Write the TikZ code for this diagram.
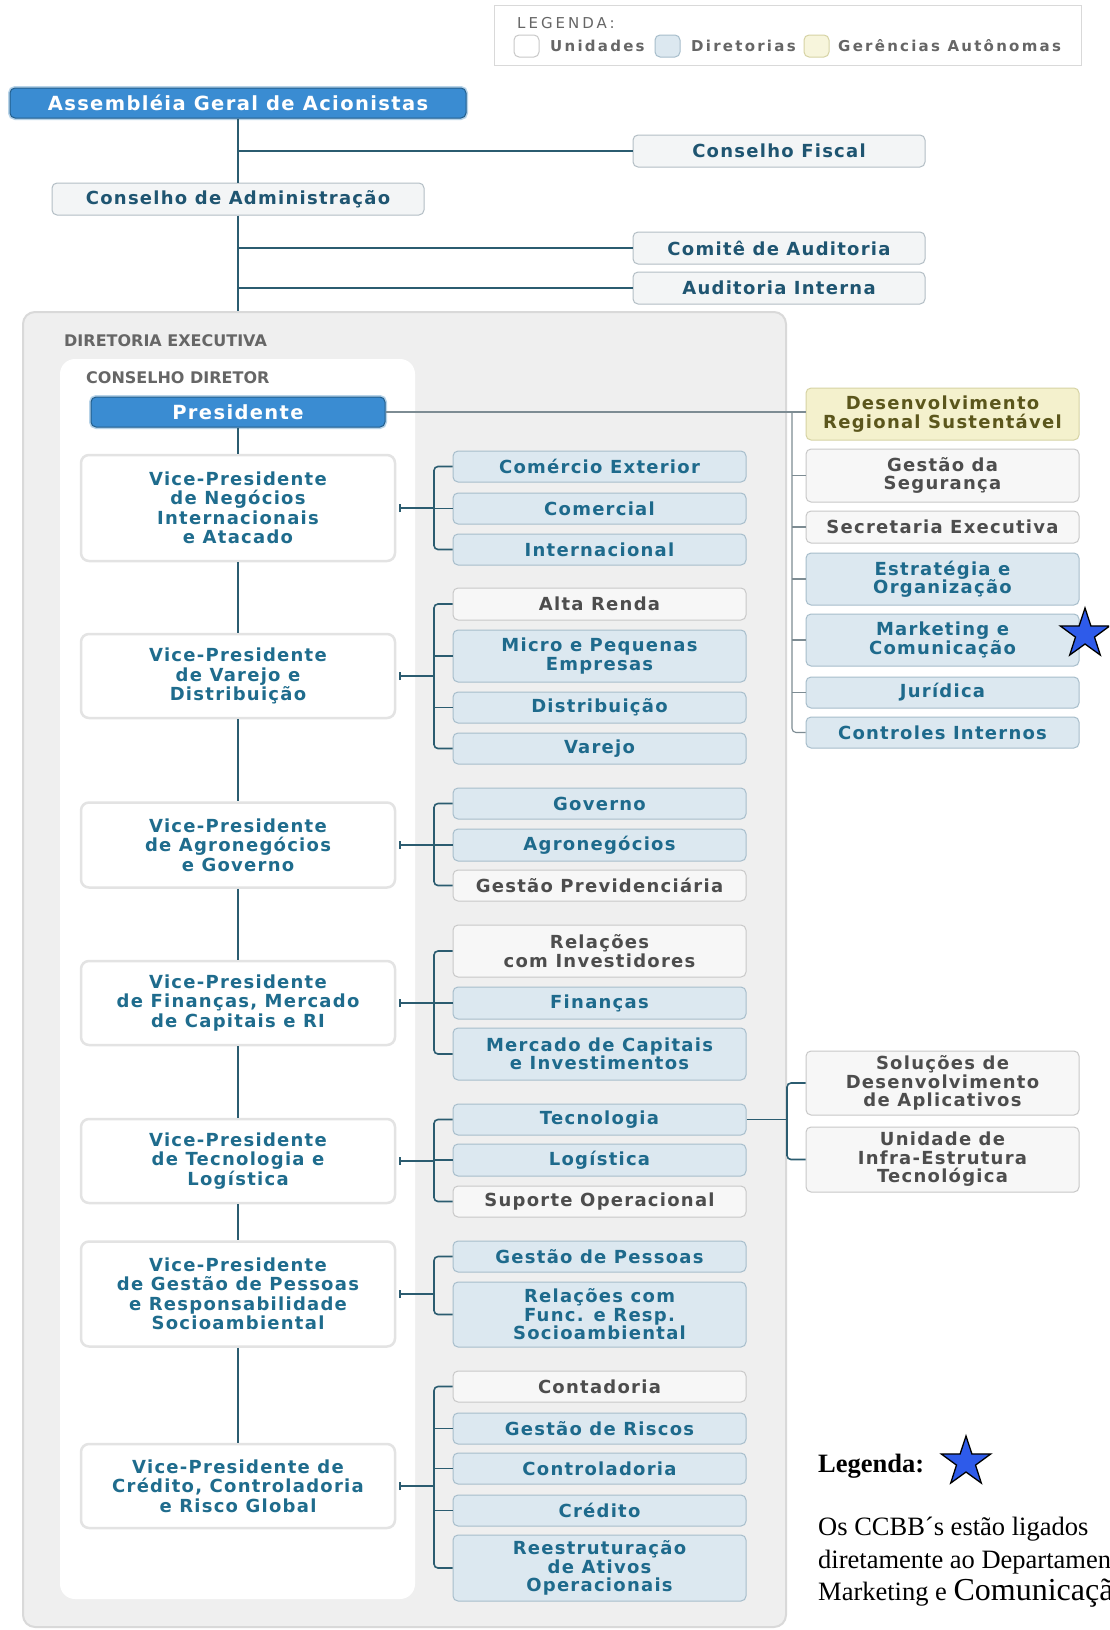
\documentclass[tikz,border=0pt]{standalone}
\usepackage{fontspec}
\setmainfont{DejaVu Sans}
\newfontfamily\orgfont[LetterSpace=7]{DejaVu Sans}
\newfontfamily\legfont[LetterSpace=15]{DejaVu Sans}
\newfontfamily\capfont[LetterSpace=20]{DejaVu Sans}
\newfontfamily\notefont{Liberation Serif}
\usetikzlibrary{arrows.meta,shapes.geometric}

\definecolor{linkcol}{HTML}{2B5C70}
\definecolor{thincol}{HTML}{7D8C93}
\definecolor{dirfill}{HTML}{DCE8F0}
\definecolor{dirdraw}{HTML}{A7BDCB}
\definecolor{dirtext}{HTML}{1E6A8C}
\definecolor{unitfill}{HTML}{F7F7F7}
\definecolor{unitdraw}{HTML}{C8C8C8}
\definecolor{unittext}{HTML}{4D4D4D}
\definecolor{gerfill}{HTML}{F4F1CD}
\definecolor{gerdraw}{HTML}{D6D3A4}
\definecolor{gertext}{HTML}{5B561C}
\definecolor{govfill}{HTML}{F3F5F6}
\definecolor{govdraw}{HTML}{B3BEC5}
\definecolor{govtext}{HTML}{1F5571}
\definecolor{topfill}{HTML}{3A8CD2}
\definecolor{topdraw}{HTML}{225E8C}
\definecolor{topglow}{HTML}{B7D3E8}
\definecolor{vpdraw}{HTML}{E3E3E3}
\definecolor{vptext}{HTML}{1F6C8D}
\definecolor{panelfill}{HTML}{EFEFEF}
\definecolor{paneldraw}{HTML}{D9D9D9}
\definecolor{labeltext}{HTML}{666666}
\definecolor{starblue}{HTML}{2E5BEA}

\begin{document}
\begin{tikzpicture}[x=1pt, y=-1pt,
		every node/.style={inner sep=2pt, align=center},
		link/.style={draw=linkcol, line width=1.6pt},
		thinlink/.style={draw=thincol, line width=1.1pt},
		orgbox/.style={font=\orgfont\bfseries\fontsize{18}{18.5}\selectfont,
				rounded corners=5pt, line width=1pt, minimum height=#1},
		orgbox/.default=31pt,
		dirbox/.style={orgbox=#1, draw=dirdraw, fill=dirfill, text=dirtext},
		dirbox/.default=31pt,
		unitbox/.style={orgbox=#1, draw=unitdraw, fill=unitfill, text=unittext},
		unitbox/.default=31pt,
		gerbox/.style={orgbox=#1, draw=gerdraw, fill=gerfill, text=gertext},
		gerbox/.default=31pt,
		govbox/.style={orgbox=32pt, draw=govdraw, fill=govfill, text=govtext},
		topbox/.style={orgbox=30pt, font=\orgfont\bfseries\fontsize{19.5}{20}\selectfont,
				draw=topdraw, fill=topfill, text=white,
				preaction={draw=topglow, line width=4pt}},
		vpbox/.style={orgbox=#1, draw=vpdraw, line width=2.5pt, fill=white, text=vptext,
				minimum width=314pt, rounded corners=8pt,
				font=\orgfont\bfseries\fontsize{18}{19.5}\selectfont},
		mid/.style={minimum width=293pt},
		side/.style={minimum width=273pt},
		seclabel/.style={anchor=west, inner sep=0pt, text=labeltext,
				font=\bfseries\fontsize{16}{18}\selectfont},
		swatch/.style={minimum width=25pt, minimum height=22pt, rounded corners=5pt,
				line width=1pt, inner sep=0pt},
		legtext/.style={anchor=west, inner sep=0pt, text=labeltext,
				font=\legfont\bfseries\fontsize{15}{17}\selectfont},
		notetext/.style={anchor=base west, inner sep=0pt,
				font=\notefont\fontsize{26.5}{30}\selectfont},
		ccstar/.style={star, star points=5, star point ratio=2.6, minimum size=52pt,
				inner sep=0pt, fill=starblue, draw=black, line width=1.3pt} ]

	\useasboundingbox (0,0) rectangle (1109,1630);
	\clip (0,0) rectangle (1109,1630);
	\fill[white] (0,0) rectangle (1109,1630);

	% legend
	\node[draw=paneldraw, line width=1pt, minimum width=587pt, minimum height=60pt] (leg) at (787.5,35) {};
	\node[anchor=west, inner sep=0pt, text=labeltext, font=\capfont\fontsize{15}{17}\selectfont] (legtxt) at (517,23) {LEGENDA:};
	\node[swatch, draw=unitdraw, fill=white] (swu) at (526.5,46) {};
	\node[legtext] (txu) at (550,46) {Unidades};
	\node[swatch, draw=dirdraw, fill=dirfill] (swd) at (667.5,46) {};
	\node[legtext] (txd) at (691,46) {Diretorias};
	\node[swatch, draw=gerdraw, fill=gerfill!70] (swg) at (816.5,46) {};
	\node[legtext] (txg) at (838,46) {Gerências Autônomas};

	% top
	\node[topbox, minimum width=456pt] (asm) at (238,103) {Assembléia Geral de Acionistas};
	\node[govbox, minimum width=292pt] (cfis) at (779,151) {Conselho Fiscal};
	\node[govbox, minimum width=372pt] (cadm) at (238,199) {Conselho de Administração};
	\node[govbox, minimum width=292pt] (caud) at (779,248) {Comitê de Auditoria};
	\node[govbox, minimum width=292pt] (aint) at (779,288) {Auditoria Interna};

	% panels
	\node[draw=paneldraw, fill=panelfill, line width=2pt, rounded corners=12pt,
		minimum width=763pt, minimum height=1315pt] (direx) at (404.5,969.5) {};
	\node[fill=white, rounded corners=15pt, minimum width=355pt, minimum height=1240pt] (condir) at (237.5,979) {};
	\node[seclabel] (direxlbl) at (64,341) {DIRETORIA EXECUTIVA};
	\node[seclabel] (condirlbl) at (86,378) {CONSELHO DIRETOR};

	\node[topbox, minimum width=294pt] (pres) at (238,412) {Presidente};

	% vice-presidentes
	\node[vpbox=106pt] (vp1) at (238,508) {Vice-Presidente\\de Negócios\\Internacionais\\e Atacado};
	\node[vpbox=84pt] (vp2) at (238,676) {Vice-Presidente\\de Varejo e\\Distribuição};
	\node[vpbox=85pt] (vp3) at (238,845) {Vice-Presidente\\de Agronegócios\\e Governo};
	\node[vpbox=84pt] (vp4) at (238,1003) {Vice-Presidente\\de Finanças, Mercado\\de Capitais e RI};
	\node[vpbox=84pt] (vp5) at (238,1161) {Vice-Presidente\\de Tecnologia e\\Logística};
	\node[vpbox=105pt] (vp6) at (238,1294) {Vice-Presidente\\de Gestão de Pessoas\\e Responsabilidade\\Socioambiental};
	\node[vpbox=84pt] (vp7) at (238,1486) {Vice-Presidente de\\Crédito, Controladoria\\e Risco Global};

	% diretorias
	\node[dirbox, mid] (comext) at (599.5,466.5) {Comércio Exterior};
	\node[dirbox, mid] (comerc) at (599.5,508.5) {Comercial};
	\node[dirbox, mid] (intl) at (599.5,549.5) {Internacional};

	\node[unitbox=32pt, mid] (altar) at (599.5,604) {Alta Renda};
	\node[dirbox=52pt, mid] (mpe) at (599.5,656) {Micro e Pequenas\\Empresas};
	\node[dirbox, mid] (distr) at (599.5,707.5) {Distribuição};
	\node[dirbox, mid] (varejo) at (599.5,748.5) {Varejo};

	\node[dirbox, mid] (gov) at (599.5,803.5) {Governo};
	\node[dirbox=32pt, mid] (agro) at (599.5,845) {Agronegócios};
	\node[unitbox, mid] (gprev) at (599.5,885.5) {Gestão Previdenciária};

	\node[unitbox=52pt, mid] (ri) at (599.5,951) {Relações\\com Investidores};
	\node[dirbox=32pt, mid] (fin) at (599.5,1003) {Finanças};
	\node[dirbox=52pt, mid] (mercap) at (599.5,1054) {Mercado de Capitais\\e Investimentos};

	\node[dirbox, mid] (tec) at (599.5,1119.5) {Tecnologia};
	\node[dirbox=32pt, mid] (log) at (599.5,1160) {Logística};
	\node[unitbox, mid] (supop) at (599.5,1201.5) {Suporte Operacional};

	\node[dirbox, mid] (gpes) at (599.5,1256.5) {Gestão de Pessoas};
	\node[dirbox=65pt, mid] (relfunc) at (599.5,1314.5) {Relações com\\Func. e Resp.\\Socioambiental};

	\node[unitbox, mid] (cont) at (599.5,1386.5) {Contadoria};
	\node[dirbox, mid] (grisc) at (599.5,1428.5) {Gestão de Riscos};
	\node[dirbox, mid] (contr) at (599.5,1468.5) {Controladoria};
	\node[dirbox, mid] (cred) at (599.5,1510.5) {Crédito};
	\node[dirbox=66pt, mid] (reest) at (599.5,1568) {Reestruturação\\de Ativos\\Operacionais};

	% right column
	\node[gerbox=52pt, side] (drs) at (942.5,414) {Desenvolvimento\\Regional Sustentável};
	\node[unitbox=53pt, side] (gseg) at (942.5,475.5) {Gestão da\\Segurança};
	\node[unitbox=32pt, side] (secex) at (942.5,527) {Secretaria Executiva};
	\node[dirbox=52pt, side] (estr) at (942.5,579) {Estratégia e\\Organização};
	\node[dirbox=52pt, side] (mkt) at (942.5,640) {Marketing e\\Comunicação};
	\node[dirbox, side] (jur) at (942.5,692.5) {Jurídica};
	\node[dirbox, side] (ctrl) at (942.5,732.5) {Controles Internos};
	\node[ccstar] (mktstar) at (1085,634) {};

	\node[unitbox=64pt, side] (sda) at (942.5,1083) {Soluções de\\Desenvolvimento\\de Aplicativos};
	\node[unitbox=65pt, side] (uie) at (942.5,1159.5) {Unidade de\\Infra-Estrutura\\Tecnológica};

	% connectors
	\coordinate (bx) at (434,0);
	\coordinate (rx) at (792,0);
	\coordinate (tx) at (787,0);

	\draw[link] (asm) -- (cadm) -- (cadm |- direx.north);
	\draw[link] (asm |- cfis) -- (cfis.west);
	\draw[link] (cadm |- caud) -- (caud.west);
	\draw[link] (cadm |- aint) -- (aint.west);

	\draw[link] (pres) -- (vp1) -- (vp2) -- (vp3) -- (vp4) -- (vp5) -- (vp6) -- (vp7);

	\draw[thinlink] (pres) -- (pres -| drs.west);
	\draw[thinlink, rounded corners=4pt] (pres -| rx) |- (ctrl.west);
	\draw[thinlink] (gseg -| rx) -- (gseg.west);
	\draw[thinlink] (secex -| rx) -- (secex.west);
	\draw[thinlink] (estr -| rx) -- (estr.west);
	\draw[thinlink] (mkt -| rx) -- (mkt.west);
	\draw[thinlink] (jur -| rx) -- (jur.west);

	\draw[link, {Bar[width=8pt]}-] ([xshift=3pt]vp1.east) -- (vp1 -| bx);
	\draw[link, rounded corners=4pt] (comext.west) -| (vp1 -| bx) |- (intl.west);
	\draw[link] (comerc -| bx) -- (comerc.west);

	\draw[link, {Bar[width=8pt]}-] ([xshift=3pt]vp2.east) -- (vp2 -| bx);
	\draw[link, rounded corners=4pt] (altar.west) -| (vp2 -| bx) |- (varejo.west);
	\draw[link] (mpe -| bx) -- (mpe.west);
	\draw[link] (distr -| bx) -- (distr.west);

	\draw[link, {Bar[width=8pt]}-] ([xshift=3pt]vp3.east) -- (vp3 -| bx);
	\draw[link, rounded corners=4pt] (gov.west) -| (vp3 -| bx) |- (gprev.west);
	\draw[link] (agro -| bx) -- (agro.west);

	\draw[link, {Bar[width=8pt]}-] ([xshift=3pt]vp4.east) -- (vp4 -| bx);
	\draw[link, rounded corners=4pt] (ri.west) -| (vp4 -| bx) |- (mercap.west);
	\draw[link] (fin -| bx) -- (fin.west);

	\draw[link, {Bar[width=8pt]}-] ([xshift=3pt]vp5.east) -- (vp5 -| bx);
	\draw[link, rounded corners=4pt] (tec.west) -| (vp5 -| bx) |- (supop.west);
	\draw[link] (log -| bx) -- (log.west);

	\draw[link] (tec.east) -- (tec -| tx);
	\draw[link, rounded corners=4pt] (sda.west) -| (tec -| tx) |- (uie.west);

	\draw[link, {Bar[width=8pt]}-] ([xshift=3pt]vp6.east) -- (vp6 -| bx);
	\draw[link, rounded corners=4pt] (gpes.west) -| (vp6 -| bx) |- (relfunc.west);

	\draw[link, {Bar[width=8pt]}-] ([xshift=3pt]vp7.east) -- (vp7 -| bx);
	\draw[link, rounded corners=4pt] (cont.west) -| (vp7 -| bx) |- (reest.west);
	\draw[link] (grisc -| bx) -- (grisc.west);
	\draw[link] (contr -| bx) -- (contr.west);
	\draw[link] (cred -| bx) -- (cred.west);

	% note
	\node[anchor=base west, inner sep=0pt, font=\notefont\bfseries\fontsize{26.5}{30}\selectfont] (notetit) at (818,1472) {Legenda:};
	\node[ccstar] (notestar) at (966,1462) {};
	\node[notetext] (note1) at (818,1535) {Os CCBB´s estão ligados};
	\node[notetext] (note2) at (818,1568) {diretamente ao Departamento de};
	\node[notetext] (note3) at (818,1600) {Marketing e {\fontsize{32}{34}\selectfont Comunicação}};
\end{tikzpicture}
\end{document}
